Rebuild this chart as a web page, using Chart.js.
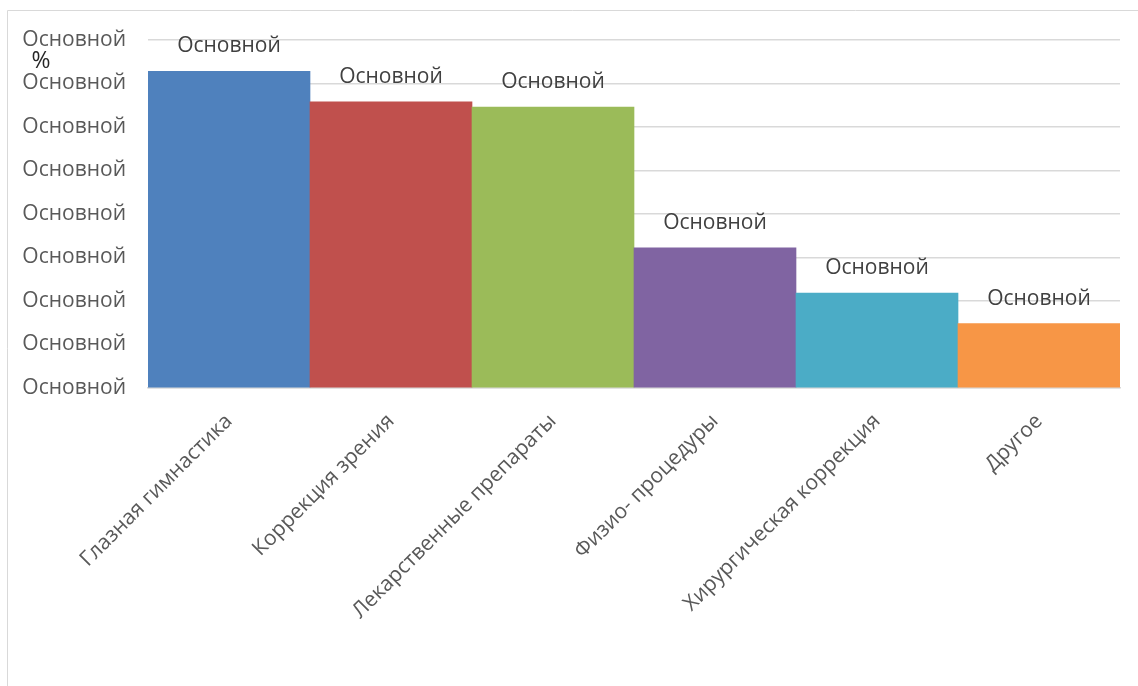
<!DOCTYPE html>
<html>
<head>
<meta charset="utf-8">
<script src="https://cdn.jsdelivr.net/npm/chart.js@4/dist/chart.umd.min.js"></script>
<style>
html,body{margin:0;padding:0;background:#fff;overflow:hidden;}
#wrap{position:absolute;left:0;top:0;width:1138px;height:686px;}
</style>
</head>
<body>
<div id="wrap"><canvas id="c" width="1138" height="686"></canvas></div>
<script>
const categories = ['Глазная гимнастика','Коррекция зрения','Лекарственные препараты','Физио- процедуры','Хирургическая коррекция','Другое'];
const values = [36.4, 32.9, 32.3, 16.1, 10.9, 7.4];
const barColors = ['#4F81BD','#C0504D','#9BBB59','#8064A2','#4BACC6','#F79646'];
const dataLabels = ['Основной','Основной','Основной','Основной','Основной','Основной'];
const yTickLabel = 'Основной';
const yAxisTitle = '%';

const FONT = 'Open Sans';

const extras = {
  id: 'extras',
  beforeDraw(chart) {
    const ctx = chart.ctx;
    ctx.save();
    ctx.strokeStyle = '#d9d9d9';
    ctx.lineWidth = 1;
    ctx.beginPath();
    ctx.moveTo(7.5, 686);
    ctx.lineTo(7.5, 10.5);
    ctx.lineTo(1138, 10.5);
    ctx.stroke();
    ctx.restore();
  },
  afterDatasetsDraw(chart) {
    const ctx = chart.ctx;
    const meta = chart.getDatasetMeta(0);
    ctx.save();
    ctx.font = '21px "' + FONT + '"';
    ctx.fillStyle = '#404040';
    ctx.textAlign = 'center';
    ctx.textBaseline = 'middle';
    meta.data.forEach((bar, i) => {
      ctx.fillText(dataLabels[i], bar.x, bar.y - 25);
    });
    ctx.font = '23px "' + FONT + '"';
    ctx.fillStyle = '#262626';
    ctx.fillText(yAxisTitle, 41, 61);
    ctx.restore();
  }
};

new Chart(document.getElementById('c'), {
  type: 'bar',
  data: {
    labels: categories,
    datasets: [{
      data: values,
      backgroundColor: barColors,
      borderWidth: 0,
      categoryPercentage: 1,
      barPercentage: 1
    }]
  },
  options: {
    responsive: false,
    animation: false,
    devicePixelRatio: 1,
    layout: { padding: { top: 40, right: 18, bottom: 0, left: 0 } },
    plugins: { legend: { display: false }, tooltip: { enabled: false } },
    scales: {
      x: {
        grid: { display: false, drawTicks: false },
        border: { display: true, color: '#d9d9d9', width: 1.5 },
        ticks: {
          maxRotation: 45, minRotation: 45, padding: 21,
          color: '#595959',
          font: { family: FONT, size: 21 }
        },
        afterFit(scale) { scale.height = 298; }
      },
      y: {
        min: 0, max: 40,
        grid: { color: '#d9d9d9', lineWidth: 1.5, drawTicks: false },
        border: { display: false },
        ticks: {
          stepSize: 5, padding: 22,
          color: '#595959',
          font: { family: FONT, size: 21 },
          callback: () => yTickLabel
        },
        afterFit(scale) { scale.width = 148; }
      }
    }
  },
  plugins: [extras]
});
</script>
</body>
</html>
